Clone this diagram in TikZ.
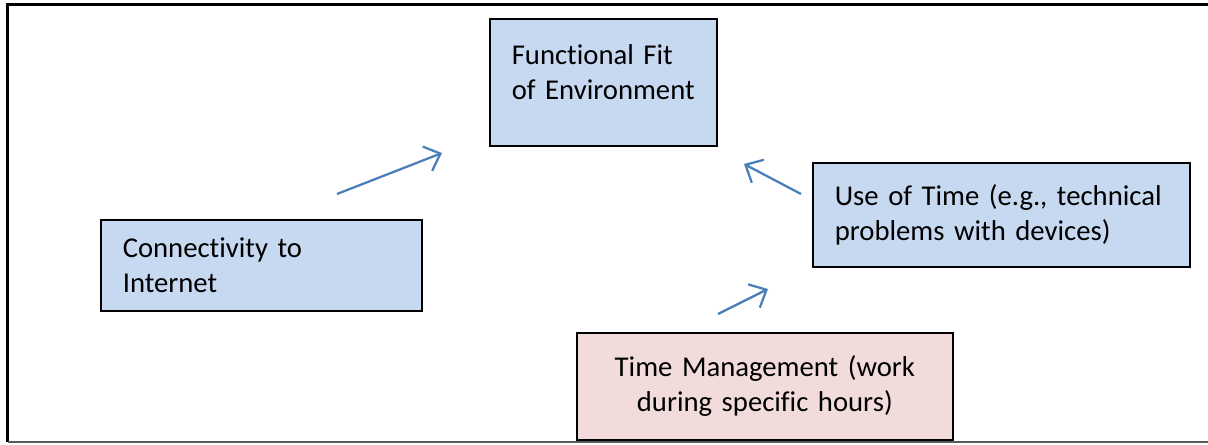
\documentclass[tikz,border=0pt]{standalone}
\usepackage{fontspec}
\setmainfont{Carlito}[Ligatures=NoCommon]
\usetikzlibrary{arrows.meta,positioning}
\definecolor{boxblue}{RGB}{198,217,241}
\definecolor{boxpink}{RGB}{242,220,219}
\definecolor{arrowblue}{RGB}{74,126,187}
\definecolor{framegray}{RGB}{90,90,90}

\begin{document}
\begin{tikzpicture}[
    x=0.025cm, y=-0.025cm,
    every node/.style={font=\fontsize{20.4}{25}\selectfont},
    box/.style={draw=black, line width=1.1pt, fill=boxblue, anchor=north west,
        align=left, inner xsep=0.55cm, inner ysep=0pt},
    arrow/.style={-{Straight Barb[length=3.5mm,width=6.5mm]}, line width=1.6pt, arrowblue}
]
    % Frame
    \useasboundingbox (0,0) rectangle (1208,445);
    \draw[line width=1.5pt] (1208,4.5) -- (7.5,4.5) -- (7.5,442);
    \draw[framegray, line width=0.8pt] (7.5,442) -- (1208,442);

    % Boxes
    \node[box, minimum width=5.675cm, minimum height=3.175cm, text width=4.575cm] (fit) at (489,18) {Functional Fit\\of Environment\rule[-0.5cm]{0pt}{0.5cm}};
    \node[box, minimum width=8.025cm, minimum height=2.275cm, text width=6.925cm] (internet) at (100,219) {Connectivity to\\Internet};
    \node[box, minimum width=9.425cm, minimum height=2.6cm, text width=8.325cm] (usetime) at (812,162) {Use of Time (e.g., technical\\problems with devices)};
    \node[box, fill=boxpink, align=center, minimum width=9.4cm, minimum height=2.675cm, text width=8.3cm] (timemgmt) at (576,332) {Time Management (work\\during specific hours)};

    % Arrows
    \coordinate (a1) at (337,194);
    \coordinate (b1) at (442,153);
    \coordinate (a2) at (801,194);
    \coordinate (b2) at (744,164);
    \coordinate (a3) at (718,314);
    \coordinate (b3) at (768,289);
    \draw[arrow] (a1) -- (b1);
    \draw[arrow] (a2) -- (b2);
    \draw[arrow] (a3) -- (b3);
\end{tikzpicture}
\end{document}
